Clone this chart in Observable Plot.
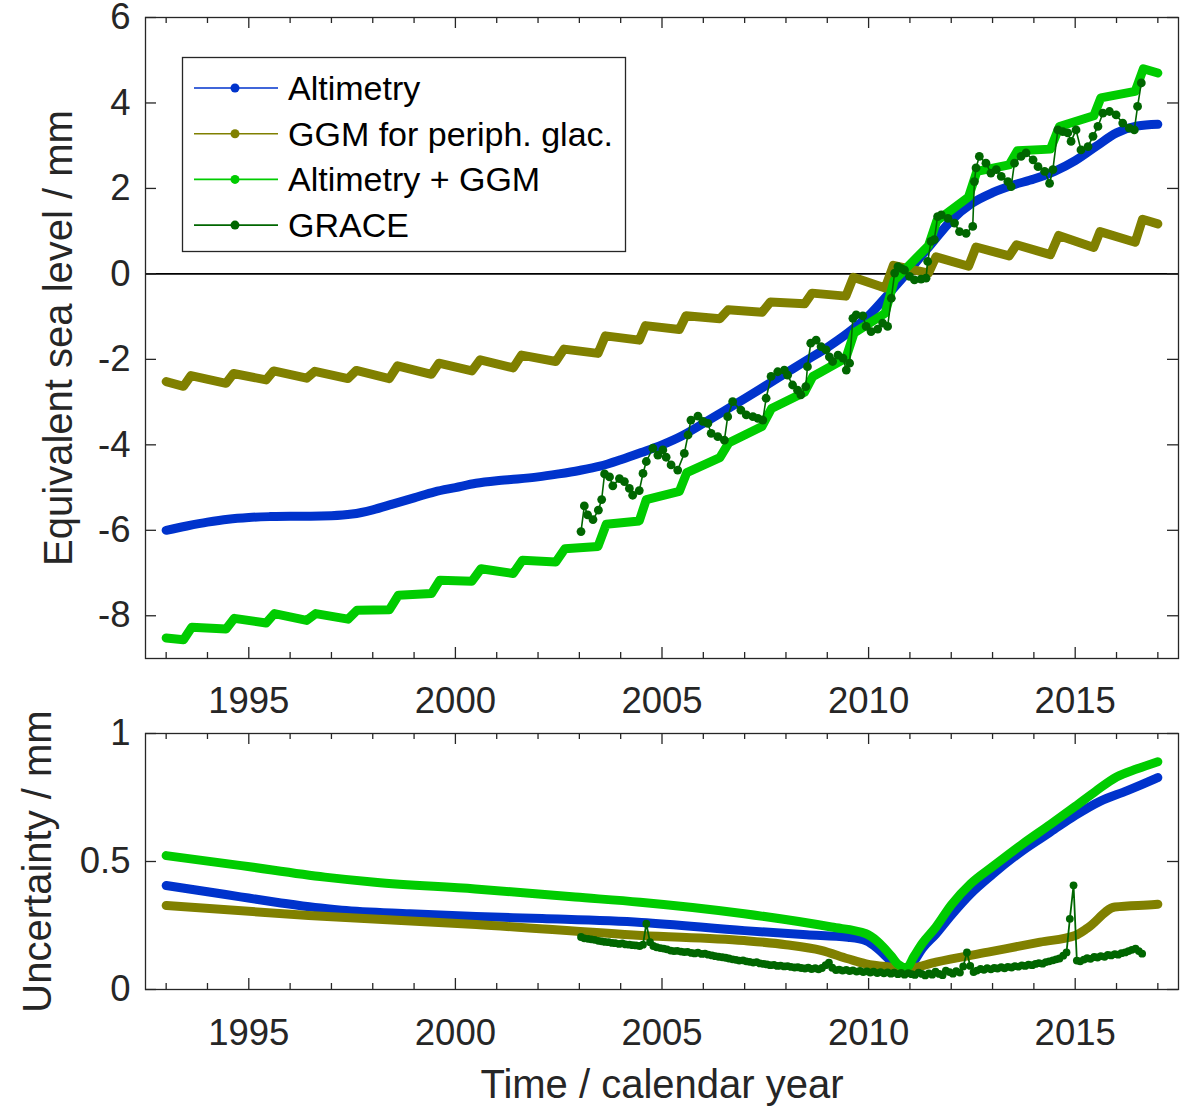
<!DOCTYPE html>
<html><head><meta charset="utf-8">
<script src="https://cdn.jsdelivr.net/npm/d3@7"></script>
<script src="https://cdn.jsdelivr.net/npm/@observablehq/plot@0.6"></script>
<style>
html,body{margin:0;padding:0;background:#fff;}
#chart{position:relative;width:1187px;height:1106px;overflow:hidden;font-family:"Liberation Sans",Arial,Helvetica,sans-serif;}
#chart svg{position:absolute;left:0;overflow:visible;}
</style></head><body><div id="chart"></div>
<script>
// ---------- data (year, value) ----------
const altimetry = [[1993.0,-6.00],[1993.5,-5.90],[1994.0,-5.81],[1994.5,-5.74],[1995.0,-5.70],[1995.5,-5.68],[1996.0,-5.67],[1996.5,-5.67],[1997.0,-5.66],[1997.5,-5.62],[1998.0,-5.52],[1998.5,-5.38],[1999.0,-5.24],[1999.5,-5.10],[2000.0,-5.00],[2000.5,-4.90],[2001.0,-4.84],[2001.5,-4.80],[2002.0,-4.75],[2002.5,-4.68],[2003.0,-4.60],[2003.5,-4.50],[2004.0,-4.35],[2004.5,-4.18],[2005.0,-4.00],[2005.5,-3.78],[2006.0,-3.50],[2006.5,-3.21],[2007.0,-2.92],[2007.5,-2.62],[2008.0,-2.32],[2008.5,-2.02],[2009.0,-1.72],[2009.5,-1.38],[2010.0,-0.98],[2010.5,-0.45],[2011.0,0.10],[2011.5,0.68],[2012.0,1.25],[2012.5,1.65],[2013.0,1.90],[2013.5,2.08],[2014.0,2.22],[2014.5,2.40],[2015.0,2.65],[2015.5,2.98],[2016.0,3.30],[2016.5,3.46],[2017.0,3.50]];

const ggm = [[1993.00,-2.52],[1993.42,-2.63],[1993.60,-2.38],[1994.45,-2.56],[1994.63,-2.33],[1995.42,-2.48],[1995.60,-2.27],[1996.40,-2.44],[1996.60,-2.28],[1997.40,-2.45],[1997.60,-2.26],[1998.40,-2.45],[1998.60,-2.15],[1999.42,-2.35],[1999.60,-2.09],[2000.40,-2.27],[2000.60,-2.01],[2001.40,-2.20],[2001.60,-1.90],[2002.43,-2.05],[2002.63,-1.76],[2003.45,-1.86],[2003.63,-1.45],[2004.45,-1.55],[2004.60,-1.21],[2005.42,-1.30],[2005.58,-0.98],[2006.40,-1.05],[2006.60,-0.84],[2007.42,-0.90],[2007.62,-0.66],[2008.45,-0.70],[2008.63,-0.45],[2009.45,-0.52],[2009.63,-0.08],[2010.40,-0.33],[2010.60,0.20],[2011.45,0.02],[2011.63,0.40],[2012.42,0.18],[2012.60,0.63],[2013.40,0.42],[2013.58,0.68],[2014.40,0.45],[2014.60,0.90],[2015.45,0.62],[2015.60,0.99],[2016.45,0.74],[2016.63,1.28],[2017.00,1.17]];

const altimetryPlusGgm = [[1993.00,-8.52],[1993.42,-8.56],[1993.62,-8.27],[1994.45,-8.31],[1994.65,-8.06],[1995.42,-8.17],[1995.62,-7.95],[1996.40,-8.11],[1996.62,-7.95],[1997.40,-8.08],[1997.62,-7.87],[1998.40,-7.86],[1998.62,-7.52],[1999.42,-7.48],[1999.62,-7.17],[2000.40,-7.19],[2000.62,-6.90],[2001.40,-7.01],[2001.62,-6.70],[2002.43,-6.74],[2002.65,-6.43],[2003.45,-6.38],[2003.65,-5.86],[2004.45,-5.78],[2004.62,-5.28],[2005.42,-5.09],[2005.60,-4.65],[2006.40,-4.30],[2006.62,-3.95],[2007.42,-3.57],[2007.65,-3.15],[2008.45,-2.77],[2008.65,-2.40],[2009.45,-1.97],[2009.65,-1.38],[2010.40,-0.92],[2010.62,-0.15],[2011.45,0.66],[2011.65,1.24],[2012.42,1.80],[2012.62,2.40],[2013.40,2.55],[2013.60,2.88],[2014.40,2.92],[2014.62,3.45],[2015.45,3.70],[2015.62,4.12],[2016.45,4.27],[2016.65,4.80],[2017.00,4.70]];

const grace = [[2003.04,-6.03],[2003.12,-5.43],[2003.20,-5.64],[2003.33,-5.75],[2003.46,-5.53],[2003.54,-5.28],[2003.61,-4.68],[2003.73,-4.75],[2003.81,-4.96],[2003.97,-4.79],[2004.09,-4.86],[2004.21,-5.02],[2004.29,-5.18],[2004.45,-5.07],[2004.54,-4.67],[2004.62,-4.39],[2004.78,-4.08],[2004.90,-4.24],[2005.02,-4.12],[2005.10,-4.29],[2005.22,-4.47],[2005.38,-4.59],[2005.54,-4.20],[2005.63,-3.77],[2005.70,-3.42],[2005.87,-3.33],[2005.99,-3.45],[2006.11,-3.50],[2006.19,-3.73],[2006.35,-3.81],[2006.51,-3.89],[2006.59,-3.34],[2006.71,-2.99],[2006.91,-3.19],[2007.04,-3.30],[2007.20,-3.34],[2007.32,-3.38],[2007.44,-3.42],[2007.52,-2.91],[2007.64,-2.40],[2007.80,-2.29],[2007.96,-2.25],[2008.04,-2.37],[2008.16,-2.60],[2008.28,-2.72],[2008.36,-2.83],[2008.48,-2.64],[2008.52,-2.17],[2008.60,-1.62],[2008.73,-1.55],[2008.85,-1.70],[2008.97,-1.78],[2009.05,-1.94],[2009.13,-2.05],[2009.26,-1.90],[2009.38,-1.97],[2009.46,-2.25],[2009.54,-2.09],[2009.62,-1.04],[2009.70,-0.96],[2009.86,-0.98],[2009.94,-1.23],[2010.06,-1.35],[2010.22,-1.29],[2010.34,-1.15],[2010.46,-1.23],[2010.55,-0.57],[2010.63,0.02],[2010.71,0.17],[2010.79,0.13],[2010.87,0.09],[2010.99,-0.06],[2011.11,-0.14],[2011.27,-0.12],[2011.39,-0.10],[2011.43,0.29],[2011.51,0.76],[2011.59,0.80],[2011.67,1.34],[2011.76,1.38],[2011.92,1.30],[2012.08,1.19],[2012.20,0.99],[2012.36,0.95],[2012.52,1.11],[2012.56,2.16],[2012.60,2.48],[2012.68,2.75],[2012.84,2.59],[2012.96,2.36],[2013.09,2.44],[2013.21,2.28],[2013.37,2.16],[2013.45,2.04],[2013.53,2.59],[2013.69,2.75],[2013.81,2.83],[2013.98,2.67],[2014.10,2.51],[2014.26,2.40],[2014.38,2.12],[2014.46,2.44],[2014.58,3.37],[2014.70,3.33],[2014.82,3.30],[2014.90,3.10],[2015.02,3.37],[2015.14,2.90],[2015.31,2.98],[2015.43,3.22],[2015.55,3.45],[2015.67,3.76],[2015.83,3.80],[2015.99,3.72],[2016.15,3.53],[2016.31,3.41],[2016.43,3.37],[2016.51,3.92],[2016.60,4.47]];

const altimetryUnc = [[1993.0,0.406],[1994.0,0.382],[1994.8,0.362],[1995.7,0.340],[1996.6,0.320],[1997.25,0.310],[1998.9,0.296],[2000.5,0.285],[2002.1,0.277],[2004.5,0.262],[2007.0,0.230],[2008.5,0.214],[2009.5,0.204],[2009.94,0.190],[2010.2,0.162],[2010.36,0.139],[2010.55,0.108],[2010.70,0.087],[2010.9,0.068],[2011.1,0.110],[2011.3,0.160],[2011.63,0.217],[2012.0,0.290],[2012.47,0.374],[2013.0,0.450],[2013.73,0.543],[2014.4,0.615],[2015.0,0.680],[2015.6,0.735],[2016.26,0.777],[2016.93,0.823],[2017.0,0.828]];

const ggmUnc = [[1993.0,0.328],[1996.45,0.289],[2000.5,0.254],[2004.5,0.211],[2006.99,0.191],[2008.0,0.175],[2008.85,0.153],[2009.5,0.120],[2009.94,0.100],[2010.5,0.088],[2010.95,0.082],[2011.63,0.107],[2012.89,0.146],[2014.15,0.185],[2015.0,0.211],[2015.3,0.240],[2015.96,0.322],[2016.93,0.332],[2017.0,0.333]];

const altimetryPlusGgmUnc = [[1993.0,0.523],[1994.82,0.484],[1996.84,0.439],[1998.05,0.419],[2000.48,0.393],[2002.9,0.361],[2004.47,0.341],[2006.99,0.296],[2009.1,0.244],[2009.94,0.218],[2010.2,0.190],[2010.36,0.165],[2010.55,0.130],[2010.7,0.100],[2010.92,0.085],[2011.1,0.130],[2011.3,0.180],[2011.63,0.244],[2012.0,0.330],[2012.47,0.413],[2013.0,0.480],[2013.73,0.569],[2014.4,0.645],[2015.0,0.715],[2015.5,0.775],[2016.0,0.830],[2016.5,0.862],[2017.0,0.890]];

const graceUnc = [[2003.04,0.205],[2003.12,0.200],[2003.21,0.198],[2003.29,0.196],[2003.37,0.194],[2003.46,0.190],[2003.54,0.188],[2003.62,0.186],[2003.71,0.185],[2003.79,0.182],[2003.87,0.181],[2003.96,0.178],[2004.04,0.180],[2004.12,0.176],[2004.21,0.175],[2004.29,0.173],[2004.37,0.172],[2004.46,0.170],[2004.54,0.175],[2004.62,0.257],[2004.71,0.185],[2004.79,0.170],[2004.87,0.165],[2004.96,0.162],[2005.04,0.160],[2005.12,0.157],[2005.21,0.152],[2005.29,0.150],[2005.37,0.151],[2005.46,0.148],[2005.54,0.146],[2005.62,0.147],[2005.71,0.143],[2005.79,0.141],[2005.87,0.144],[2005.96,0.139],[2006.04,0.140],[2006.12,0.136],[2006.21,0.133],[2006.29,0.130],[2006.37,0.128],[2006.46,0.126],[2006.54,0.124],[2006.62,0.121],[2006.71,0.118],[2006.79,0.116],[2006.87,0.113],[2006.96,0.114],[2007.04,0.110],[2007.12,0.108],[2007.21,0.105],[2007.29,0.107],[2007.37,0.102],[2007.46,0.100],[2007.54,0.098],[2007.62,0.095],[2007.71,0.096],[2007.79,0.092],[2007.87,0.093],[2007.96,0.090],[2008.04,0.091],[2008.12,0.088],[2008.21,0.086],[2008.29,0.087],[2008.37,0.084],[2008.46,0.082],[2008.54,0.085],[2008.62,0.080],[2008.71,0.083],[2008.79,0.079],[2008.87,0.084],[2008.96,0.095],[2009.04,0.105],[2009.12,0.085],[2009.21,0.076],[2009.29,0.078],[2009.37,0.074],[2009.46,0.077],[2009.54,0.072],[2009.62,0.075],[2009.71,0.070],[2009.79,0.073],[2009.87,0.068],[2009.96,0.071],[2010.04,0.066],[2010.12,0.070],[2010.21,0.064],[2010.29,0.068],[2010.37,0.063],[2010.46,0.067],[2010.54,0.062],[2010.62,0.066],[2010.71,0.060],[2010.79,0.065],[2010.87,0.058],[2010.96,0.064],[2011.04,0.060],[2011.12,0.057],[2011.21,0.066],[2011.29,0.061],[2011.37,0.055],[2011.46,0.063],[2011.54,0.058],[2011.62,0.070],[2011.71,0.061],[2011.79,0.056],[2011.87,0.074],[2011.96,0.068],[2012.04,0.062],[2012.12,0.072],[2012.21,0.066],[2012.29,0.090],[2012.38,0.145],[2012.46,0.092],[2012.54,0.068],[2012.62,0.074],[2012.71,0.080],[2012.79,0.077],[2012.87,0.083],[2012.96,0.079],[2013.04,0.084],[2013.12,0.082],[2013.21,0.087],[2013.29,0.083],[2013.37,0.088],[2013.46,0.086],[2013.54,0.091],[2013.62,0.089],[2013.71,0.094],[2013.79,0.092],[2013.87,0.097],[2013.96,0.095],[2014.04,0.100],[2014.12,0.103],[2014.21,0.101],[2014.29,0.107],[2014.37,0.110],[2014.46,0.114],[2014.54,0.118],[2014.62,0.121],[2014.71,0.132],[2014.79,0.145],[2014.87,0.276],[2014.96,0.407],[2015.04,0.113],[2015.12,0.110],[2015.21,0.117],[2015.29,0.122],[2015.37,0.120],[2015.46,0.127],[2015.54,0.125],[2015.62,0.130],[2015.71,0.128],[2015.79,0.135],[2015.87,0.133],[2015.96,0.138],[2016.04,0.136],[2016.12,0.142],[2016.21,0.145],[2016.29,0.150],[2016.37,0.155],[2016.46,0.160],[2016.54,0.150],[2016.62,0.140]];

// ---------- ticks and labels ----------
const X_DOMAIN = [1992.5, 2017.5];
const TOP_Y_DOMAIN = [-9, 6];
const BOTTOM_Y_DOMAIN = [0, 1];
const xLabelYears = [1995, 2000, 2005, 2010, 2015];
const minorYears = [1993,1994,1995,1996,1997,1998,1999,2000,2001,2002,2003,2004,2005,2006,2007,2008,2009,2010,2011,2012,2013,2014,2015,2016,2017];
const topYTicks = [-8, -6, -4, -2, 0, 2, 4, 6];
const bottomYTicks = [0, 0.5, 1];
const legendLabels = ["Altimetry", "GGM for periph. glac.", "Altimetry + GGM", "GRACE"];
const topYTitle = "Equivalent sea level / mm";
const bottomYTitle = "Uncertainty / mm";
const xTitle = "Time / calendar year";

// ---------- styling ----------
const BLUE = "#0033cc", OLIVE = "#808000", GREEN = "#00cc00", DKGREEN = "#006600";
const legendColors = [BLUE, OLIVE, GREEN, DKGREEN];
const AXIS = "#262626";
const FONT = '"Liberation Sans", Arial, Helvetica, sans-serif';
const W = 1187, ML = 145, MR = 9;
const innerW = W - ML - MR;

function boxTicks(yDomain, innerH, yTicks) {
  const xPer = innerW / (X_DOMAIN[1] - X_DOMAIN[0]);
  const yPer = innerH / (yDomain[1] - yDomain[0]);
  const len = d => (xLabelYears.includes(d) ? 11 : 6) / yPer;
  const yl = 11 / xPer;
  const o = {stroke: AXIS, strokeWidth: 1.3};
  return [
    Plot.ruleX(minorYears, {x: d => d, y1: yDomain[0], y2: d => yDomain[0] + len(d), ...o}),
    Plot.ruleX(minorYears, {x: d => d, y1: yDomain[1], y2: d => yDomain[1] - len(d), ...o}),
    Plot.ruleY(yTicks, {y: d => d, x1: X_DOMAIN[0], x2: X_DOMAIN[0] + yl, ...o}),
    Plot.ruleY(yTicks, {y: d => d, x1: X_DOMAIN[1], x2: X_DOMAIN[1] - yl, ...o})
  ];
}

const xy = {x: d => d[0], y: d => d[1]};
const thick = {strokeWidth: 9, strokeLinecap: "round", strokeLinejoin: "round"};
const titleOpts = {text: d => d, fontSize: 40, fill: AXIS, textAnchor: "middle", lineAnchor: "middle"};

// ---------- top panel ----------
const topH = 730, topMT = 17, topMB = 72;
const topPlot = Plot.plot({
  width: W, height: topH, marginLeft: ML, marginRight: MR, marginTop: topMT, marginBottom: topMB,
  style: {fontFamily: FONT, fontSize: "36.5px", color: AXIS, background: "transparent", overflow: "visible"},
  x: {domain: X_DOMAIN, label: null},
  y: {domain: TOP_Y_DOMAIN, label: null},
  marks: [
    Plot.ruleY([0], {stroke: "#000", strokeWidth: 1.6}),
    Plot.line(altimetry, {...xy, stroke: BLUE, ...thick, curve: "monotone-x"}),
    Plot.line(ggm, {...xy, stroke: OLIVE, ...thick}),
    Plot.line(altimetryPlusGgm, {...xy, stroke: GREEN, ...thick}),
    Plot.line(grace, {...xy, stroke: DKGREEN, strokeWidth: 1.6}),
    Plot.dot(grace, {...xy, r: 4.4, fill: DKGREEN, stroke: null}),
    Plot.frame({stroke: AXIS, strokeWidth: 1.3}),
    ...boxTicks(TOP_Y_DOMAIN, topH - topMT - topMB, topYTicks),
    Plot.axisX(xLabelYears, {tickSize: 0, tickPadding: 29, tickFormat: d => String(d), label: null, fill: AXIS}),
    Plot.axisY(topYTicks, {tickSize: 0, tickPadding: 15, tickFormat: d => String(d), label: null, fill: AXIS}),
    Plot.text([topYTitle], {frameAnchor: "left", dx: -86, rotate: -90, ...titleOpts})
  ]
});
topPlot.style.top = "0px";

// ---------- bottom panel ----------
const botH = 376, botMT = 3, botMB = 117;
const bottomPlot = Plot.plot({
  width: W, height: botH, marginLeft: ML, marginRight: MR, marginTop: botMT, marginBottom: botMB,
  style: {fontFamily: FONT, fontSize: "36.5px", color: AXIS, background: "transparent", overflow: "visible"},
  x: {domain: X_DOMAIN, label: null},
  y: {domain: BOTTOM_Y_DOMAIN, label: null},
  marks: [
    Plot.line(altimetryUnc, {...xy, stroke: BLUE, ...thick, curve: "monotone-x"}),
    Plot.line(ggmUnc, {...xy, stroke: OLIVE, ...thick, curve: "monotone-x"}),
    Plot.line(altimetryPlusGgmUnc, {...xy, stroke: GREEN, ...thick, curve: "monotone-x"}),
    Plot.line(graceUnc, {...xy, stroke: DKGREEN, strokeWidth: 1.8}),
    Plot.dot(graceUnc, {...xy, r: 3.9, fill: DKGREEN, stroke: null}),
    Plot.frame({stroke: AXIS, strokeWidth: 1.3}),
    ...boxTicks(BOTTOM_Y_DOMAIN, botH - botMT - botMB, bottomYTicks),
    Plot.axisX(xLabelYears, {tickSize: 0, tickPadding: 30, tickFormat: d => String(d), label: null, fill: AXIS}),
    Plot.axisY(bottomYTicks, {tickSize: 0, tickPadding: 15, tickFormat: d => String(d), label: null, fill: AXIS}),
    Plot.text([bottomYTitle], {frameAnchor: "left", dx: -107, rotate: -90, ...titleOpts}),
    Plot.text([xTitle], {frameAnchor: "bottom", dy: 96, ...titleOpts})
  ]
});
bottomPlot.style.top = "730px";

const chart = document.getElementById("chart");
chart.appendChild(topPlot);
chart.appendChild(bottomPlot);

// ---------- legend ----------
const ns = "http://www.w3.org/2000/svg";
const leg = document.createElementNS(ns, "svg");
leg.setAttribute("width", 445); leg.setAttribute("height", 196);
leg.style.left = "182px"; leg.style.top = "57px";
const rect = document.createElementNS(ns, "rect");
Object.entries({x: 0.5, y: 0.5, width: 443, height: 194, fill: "#fff", stroke: AXIS, "stroke-width": 1.3}).forEach(([k, v]) => rect.setAttribute(k, v));
leg.appendChild(rect);
legendLabels.forEach((lab, i) => {
  const cy = 31 + i * 45.7;
  const ln = document.createElementNS(ns, "line");
  Object.entries({x1: 12, x2: 96, y1: cy, y2: cy, stroke: legendColors[i], "stroke-width": 1.6}).forEach(([k, v]) => ln.setAttribute(k, v));
  leg.appendChild(ln);
  const c = document.createElementNS(ns, "circle");
  Object.entries({cx: 53, cy: cy, r: 4.5, fill: legendColors[i]}).forEach(([k, v]) => c.setAttribute(k, v));
  leg.appendChild(c);
  const t = document.createElementNS(ns, "text");
  Object.entries({x: 106, y: cy, "dominant-baseline": "central", "font-size": 34, fill: "#000", "font-family": FONT}).forEach(([k, v]) => t.setAttribute(k, v));
  t.textContent = lab;
  leg.appendChild(t);
});
chart.appendChild(leg);
</script></body></html>
